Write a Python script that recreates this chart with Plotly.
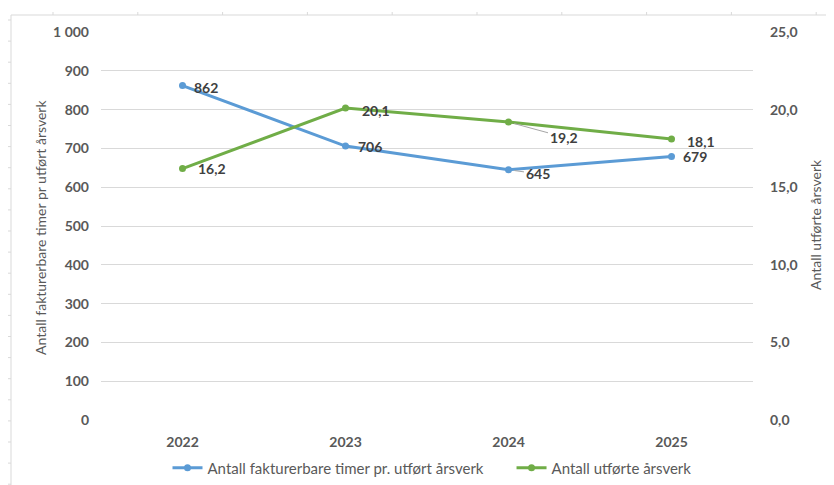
import plotly.graph_objects as go

years = ["2022", "2023", "2024", "2025"]
timer = [862, 706, 645, 679]
arsverk = [16.2, 20.1, 19.2, 18.1]
name_timer = "Antall fakturerbare timer pr. utført årsverk"
name_arsverk = "Antall utførte årsverk"
title_left = "Antall fakturerbare timer pr utført årsverk"
title_right = "Antall utførte årsverk"

BLUE = "#5B9BD5"
GREEN = "#70AD47"
TXT = "#595959"
LBL = "#404040"
FONT = "Lato"

# page is offset by the default 8px body margin
OFF = 8
PAGE_W, PAGE_H = 834, 485
PL, PR, PT, PB = 101, 753, 32, 420   # plot area in page pixels
W, H = PAGE_W - OFF, PAGE_H - OFF
L, T = PL - OFF, PT - OFF
R, B = PAGE_W - PR, PAGE_H - PB
pw, ph = PR - PL, PB - PT

GAP = "\u00a0" * 6  # spacing between legend entries

fig = go.Figure()
fig.add_trace(go.Scatter(x=years, y=timer, name=name_timer + GAP, mode="lines+markers",
                         line=dict(color=BLUE, width=3), marker=dict(size=7, color=BLUE)))
fig.add_trace(go.Scatter(x=years, y=arsverk, name=name_arsverk, mode="lines+markers", yaxis="y2",
                         line=dict(color=GREEN, width=3), marker=dict(size=7, color=GREEN)))

def fmt(v, dec):
    s = f"{v:.{dec}f}"
    return s.replace(".", ",")

# label offsets (pixels) per point: (ax, ay, leader line)
off_t = [(23, 2, False), (24, 0, False), (29, 4, True), (23, 0, False)]
off_a = [(29, 0, False), (30, 2, False), (55, 15, True), (29, 2, False)]
for i in range(len(years)):
    for vals, offs, yref, dec in ((timer, off_t, "y", 0), (arsverk, off_a, "y2", 1)):
        ax, ay, leader = offs[i]
        fig.add_annotation(x=i, y=vals[i], xref="x", yref=yref, text=f"<b>{fmt(vals[i], dec)}</b>",
                           showarrow=True, ax=ax, ay=ay,
                           arrowhead=0, arrowwidth=1,
                           arrowcolor="#A6A6A6" if leader else "rgba(255,255,255,0)",
                           standoff=6,
                           xanchor="center", yanchor="middle",
                           font=dict(family=FONT, size=14, color=LBL))

def px2x(px):
    return (px - PL) / pw
def py2y(py):
    return (PB - py) / ph

# axis titles
fig.add_annotation(x=px2x(40), y=py2y(228), xref="paper", yref="paper", text=title_left,
                   textangle=-90, showarrow=False, xanchor="center", yanchor="middle",
                   font=dict(family=FONT, size=14, color=TXT))
fig.add_annotation(x=px2x(815), y=py2y(224), xref="paper", yref="paper", text=title_right,
                   textangle=-90, showarrow=False, xanchor="center", yanchor="middle",
                   font=dict(family=FONT, size=14, color=TXT))

# decorative worksheet frame
shapes = []
line_c = "#D9D9D9"
shapes.append(dict(type="line", xref="paper", yref="paper", x0=px2x(11), x1=px2x(834),
                   y0=py2y(15), y1=py2y(15), line=dict(color=line_c, width=1)))
shapes.append(dict(type="line", xref="paper", yref="paper", x0=px2x(11), x1=px2x(11),
                   y0=py2y(15), y1=py2y(485), line=dict(color=line_c, width=1)))
for k in range(10):
    xp = 53 + k * 84.8
    shapes.append(dict(type="line", xref="paper", yref="paper", x0=px2x(xp), x1=px2x(xp),
                       y0=py2y(12), y1=py2y(15), line=dict(color=line_c, width=1)))
for k in range(23):
    yp = 20 + k * 21.1
    shapes.append(dict(type="line", xref="paper", yref="paper", x0=px2x(8), x1=px2x(11),
                       y0=py2y(yp), y1=py2y(yp), line=dict(color=line_c, width=1)))

tickfont = dict(family=FONT, size=14, color=TXT, weight="bold")
fig.update_layout(
    width=W, height=H,
    margin=dict(l=L, r=R, t=T, b=B, autoexpand=False),
    paper_bgcolor="white", plot_bgcolor="white",
    separators=", ",
    font=dict(family=FONT, size=14, color=TXT),
    shapes=shapes,
    showlegend=True,
    legend=dict(orientation="h", x=px2x(432), xanchor="center", y=py2y(468), yanchor="middle",
                font=dict(family=FONT, size=15, color=TXT)),
    xaxis=dict(type="category", range=[-0.5, 3.5], showgrid=False, zeroline=False, showline=False,
               ticks="", tickfont=tickfont, ticklabelstandoff=12, automargin=False),
    yaxis=dict(range=[0, 1000], tickvals=[0, 100, 200, 300, 400, 500, 600, 700, 800, 900, 1000],
               tickformat=",.0f", showgrid=True, gridcolor="#D9D9D9", gridwidth=1,
               zeroline=False, showline=False, ticks="", ticklabelstandoff=11,
               tickfont=tickfont, automargin=False),
    yaxis2=dict(range=[0, 25], overlaying="y", side="right", tickvals=[0, 5, 10, 15, 20, 25],
                tickformat=".1f", showgrid=False, zeroline=False, showline=False, ticks="",
                ticklabelstandoff=16, tickfont=tickfont, automargin=False),
)

fig.write_html("out.html")
